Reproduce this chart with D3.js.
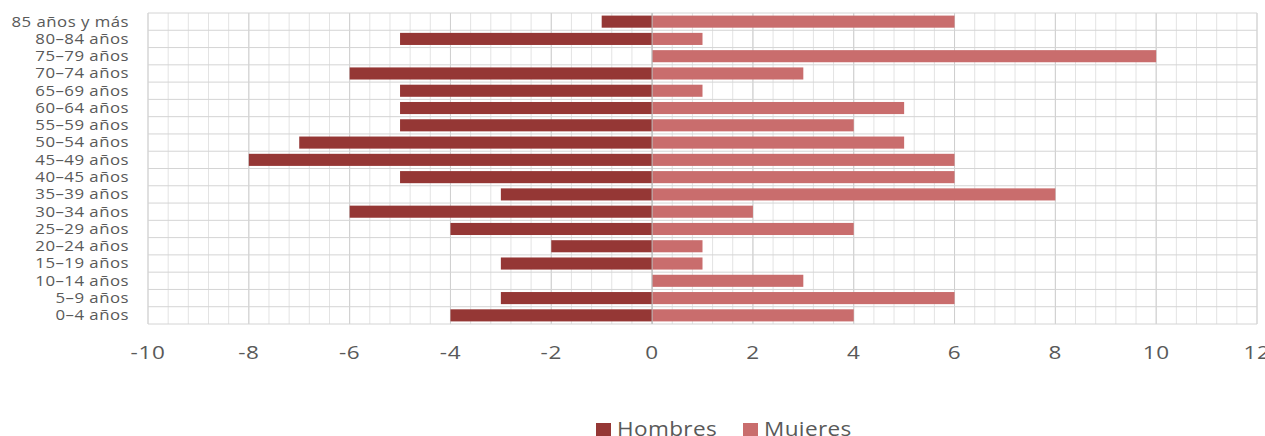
<!DOCTYPE html>
<html>
<head>
<meta charset="utf-8">
<script src="https://cdn.jsdelivr.net/npm/d3@7"></script>
<style>
  body { margin: 0; background: #fff; }
  svg text { font-family: "Open Sans", sans-serif; fill: #595959; }
</style>
</head>
<body>
<div class="chart-holder"></div>
<script>
// Age groups, bottom to top
const categories = ["0–4 años", "5–9 años", "10–14 años", "15–19 años", "20–24 años", "25–29 años",
  "30–34 años", "35–39 años", "40–45 años", "45–49 años", "50–54 años", "55–59 años",
  "60–64 años", "65–69 años", "70–74 años", "75–79 años", "80–84 años", "85 años y más"];
const hombres = [-4, -3, 0, -3, -2, -4, -6, -3, -5, -8, -7, -5, -5, -5, -6, 0, -5, -1];
const mujeres = [4, 6, 3, 1, 1, 4, 2, 8, 6, 6, 5, 4, 5, 1, 3, 10, 1, 6];
const xTicks = [-10, -8, -6, -4, -2, 0, 2, 4, 6, 8, 10, 12];
const seriesNames = ["Hombres", "Mujeres"];
const colors = ["#953735", "#c96d6d"];

const width = 1265, height = 436;
const margin = { top: 13, right: 8, bottom: 112, left: 148 };

const svg = d3.select('.chart-holder').append('svg')
  .attr('width', width)
  .attr('height', height);

const x = d3.scaleLinear().domain([-10, 12]).range([margin.left, width - margin.right]);
const y = d3.scaleBand()
  .domain(categories.slice().reverse())
  .range([margin.top, height - margin.bottom])
  .paddingInner(0.3)
  .paddingOuter(0.15);

// minor vertical grid
const minor = d3.range(-10, 12.001, 0.4).map(v => Math.round(v * 10) / 10);
svg.append('g').selectAll('line').data(minor).join('line')
  .attr('x1', d => x(d)).attr('x2', d => x(d))
  .attr('y1', margin.top).attr('y2', height - margin.bottom)
  .attr('stroke', '#e3e3e3').attr('stroke-width', 1);

// major vertical grid
svg.append('g').selectAll('line').data(xTicks).join('line')
  .attr('x1', d => x(d)).attr('x2', d => x(d))
  .attr('y1', margin.top).attr('y2', height - margin.bottom)
  .attr('stroke', '#cfcfcf').attr('stroke-width', 1);

// horizontal grid at row boundaries
const rowLines = d3.range(categories.length + 1).map(i => margin.top + i * (height - margin.bottom - margin.top) / categories.length);
svg.append('g').selectAll('line').data(rowLines).join('line')
  .attr('x1', margin.left).attr('x2', width - margin.right)
  .attr('y1', d => d).attr('y2', d => d)
  .attr('stroke', '#d4d4d4').attr('stroke-width', 1);

// bars
svg.append('g').selectAll('rect').data(categories.map((c, i) => ({ c, v: hombres[i] }))).join('rect')
  .attr('x', d => x(Math.min(0, d.v)))
  .attr('width', d => Math.abs(x(d.v) - x(0)))
  .attr('y', d => y(d.c))
  .attr('height', y.bandwidth())
  .attr('fill', colors[0]);

svg.append('g').selectAll('rect').data(categories.map((c, i) => ({ c, v: mujeres[i] }))).join('rect')
  .attr('x', d => x(0))
  .attr('width', d => Math.abs(x(d.v) - x(0)))
  .attr('y', d => y(d.c))
  .attr('height', y.bandwidth())
  .attr('fill', colors[1]);

// zero line
svg.append('line')
  .attr('x1', x(0)).attr('x2', x(0))
  .attr('y1', margin.top).attr('y2', height - margin.bottom)
  .attr('stroke', '#b8b8b8').attr('stroke-width', 1);

// category labels (glyphs stretched wide like the original)
svg.append('g').selectAll('text').data(categories).join('text')
  .attr('transform', d => 'translate(' + (margin.left - 19) + ',' + (y(d) + y.bandwidth() / 2) + ') scale(1.2,1)')
  .attr('dy', '0.35em')
  .attr('text-anchor', 'end')
  .style('font-size', '14px')
  .style('letter-spacing', '0.4px')
  .text(d => d);

// x axis labels
svg.append('g').selectAll('text').data(xTicks).join('text')
  .attr('transform', d => 'translate(' + x(d) + ',359) scale(1.25,1)')
  .attr('text-anchor', 'middle')
  .style('font-size', '18px')
  .style('letter-spacing', '0.5px')
  .text(d => d);

// legend
const legend = svg.append('g');
const legendX = [596, 743];
seriesNames.forEach((name, i) => {
  legend.append('rect')
    .attr('x', legendX[i]).attr('y', 423)
    .attr('width', 15).attr('height', 15)
    .attr('fill', colors[i]);
  legend.append('text')
    .attr('transform', 'translate(' + (legendX[i] + 21) + ',436) scale(1.13,1)')
    .style('font-size', '20px')
    .style('letter-spacing', '0.3px')
    .text(name);
});
</script>
</body>
</html>
